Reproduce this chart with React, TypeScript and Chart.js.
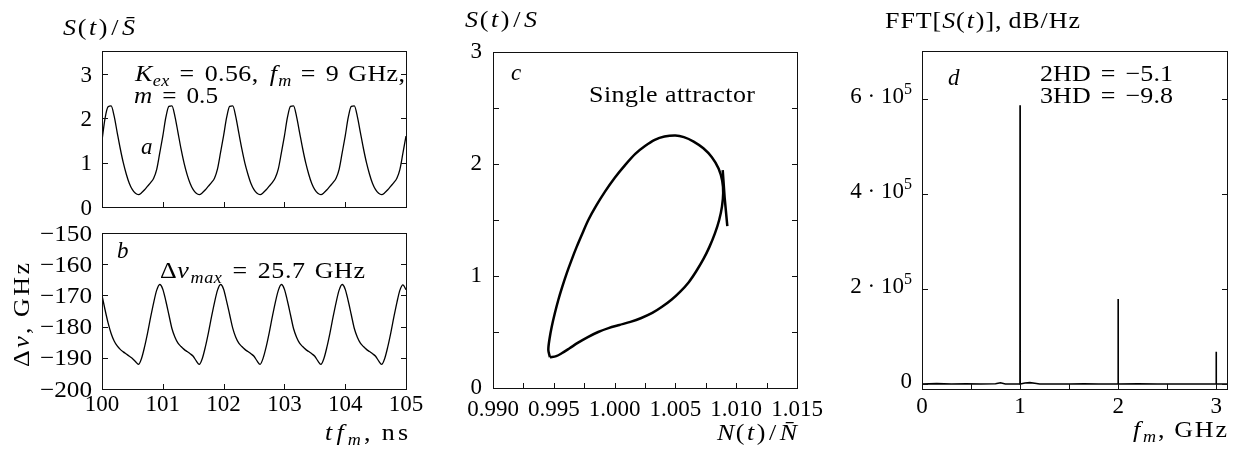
import React, { useEffect, useRef } from 'react';
import { Chart, registerables } from 'chart.js';

Chart.register(...registerables);

const W = 1236;
const H = 450;
const FONT = "'Liberation Serif', 'DejaVu Serif', serif";

// ---------- data: panels a and b (time axis, tf_m in ns) ----------
const timeNs = [
  100, 100.05, 100.1, 100.15, 100.2, 100.25, 100.3, 100.35, 100.4, 100.45, 100.5, 100.55, 100.6, 100.65, 100.7, 100.75, 100.8, 100.85, 100.9, 100.95,
  101, 101.05, 101.1, 101.15, 101.2, 101.25, 101.3, 101.35, 101.4, 101.45, 101.5, 101.55, 101.6, 101.65, 101.7, 101.75, 101.8, 101.85, 101.9, 101.95,
  102, 102.05, 102.1, 102.15, 102.2, 102.25, 102.3, 102.35, 102.4, 102.45, 102.5, 102.55, 102.6, 102.65, 102.7, 102.75, 102.8, 102.85, 102.9, 102.95,
  103, 103.05, 103.1, 103.15, 103.2, 103.25, 103.3, 103.35, 103.4, 103.45, 103.5, 103.55, 103.6, 103.65, 103.7, 103.75, 103.8, 103.85, 103.9, 103.95,
  104, 104.05, 104.1, 104.15, 104.2, 104.25, 104.3, 104.35, 104.4, 104.45, 104.5, 104.55, 104.6, 104.65, 104.7, 104.75, 104.8, 104.85, 104.9, 104.95,
  105,
];

const powerRatio = [
  1.5, 2.0, 2.26, 2.28, 2.05, 1.68, 1.32, 1.0, 0.74, 0.53, 0.39, 0.31, 0.28, 0.32, 0.39, 0.47, 0.55, 0.65, 0.85, 1.22,
  1.6, 2.02, 2.27, 2.28, 2.04, 1.68, 1.31, 0.99, 0.73, 0.53, 0.39, 0.31, 0.28, 0.32, 0.39, 0.47, 0.55, 0.65, 0.86, 1.23,
  1.61, 2.02, 2.27, 2.28, 2.04, 1.67, 1.31, 0.99, 0.74, 0.53, 0.39, 0.31, 0.28, 0.32, 0.39, 0.47, 0.55, 0.66, 0.86, 1.22,
  1.6, 2.02, 2.27, 2.28, 2.04, 1.68, 1.32, 1.0, 0.74, 0.53, 0.39, 0.31, 0.28, 0.32, 0.39, 0.47, 0.55, 0.65, 0.85, 1.22,
  1.6, 2.02, 2.27, 2.28, 2.04, 1.68, 1.32, 1.0, 0.74, 0.53, 0.39, 0.31, 0.28, 0.32, 0.39, 0.47, 0.55, 0.65, 0.85, 1.22,
  1.6,
];

const chirpGHz = [
  -170.0, -174.6, -178.8, -182.2, -184.6, -186.2, -187.3, -188.1, -188.8, -189.5, -190.2, -191.2, -192.1, -190.2, -186.5, -182.0, -177.0, -172.3, -168.3, -166.5,
  -168.0, -171.8, -176.2, -180.6, -183.4, -185.3, -186.4, -187.3, -188.0, -188.7, -189.5, -191.0, -192.1, -190.2, -186.5, -182.0, -177.0, -172.3, -168.3, -166.5,
  -168.0, -171.9, -176.2, -180.5, -183.4, -185.3, -186.4, -187.3, -188.0, -188.7, -189.5, -191.0, -192.1, -190.1, -186.5, -182.0, -177.0, -172.3, -168.4, -166.5,
  -168.0, -171.8, -176.2, -180.6, -183.4, -185.3, -186.4, -187.3, -188.0, -188.7, -189.5, -191.0, -192.1, -190.2, -186.5, -182.0, -177.0, -172.3, -168.3, -166.5,
  -168.0, -171.8, -176.2, -180.6, -183.4, -185.3, -186.4, -187.3, -188.0, -188.7, -189.5, -191.0, -192.1, -190.2, -186.5, -182.0, -177.0, -172.3, -168.3, -166.6,
  -168.2,
];

// ---------- data: panel c (phase portrait, N(t)/N̄ vs S(t)/S) ----------
const loopN = [
  0.99468, 0.9952, 0.99565, 0.9963, 0.997, 0.9978, 0.99865, 0.9995, 1.0004, 1.0013, 1.0022, 1.0031, 1.0039, 1.0047,
  1.0054, 1.0061, 1.0067, 1.0073, 1.0078, 1.00825, 1.0086, 1.00883, 1.00893, 1.00885, 1.00855, 1.008, 1.0073, 1.0065,
  1.0057, 1.005, 1.0041, 1.0033, 1.0025, 1.0017, 1.00086, 1.0, 0.99921, 0.9985, 0.99784, 0.99735, 0.99688, 0.99645,
  0.99606, 0.9957, 0.99537, 0.99508, 0.99483, 0.99465, 0.99455, 0.99468,
];
const loopS = [
  0.275, 0.285, 0.31, 0.355, 0.405, 0.455, 0.5, 0.535, 0.563, 0.59, 0.625, 0.67, 0.725, 0.79,
  0.86, 0.945, 1.04, 1.15, 1.26, 1.38, 1.5, 1.62, 1.74, 1.85, 1.96, 2.06, 2.14, 2.2,
  2.24, 2.255, 2.245, 2.215, 2.16, 2.09, 1.99, 1.875, 1.753, 1.63, 1.5, 1.38, 1.26, 1.14,
  1.024, 0.905, 0.786, 0.665, 0.547, 0.44, 0.34, 0.275,
];
const transientN = [1.00889, 1.00905, 1.00927];
const transientS = [1.945, 1.7, 1.445];

// ---------- data: panel d (spectrum) ----------
const fftFreq = [0, 0.15, 0.3, 0.45, 0.6, 0.75, 0.8, 0.85, 0.999, 1.0, 1.001, 1.05, 1.1, 1.15, 1.2, 1.5, 1.65, 1.8, 1.999, 2.0, 2.001, 2.2, 2.4, 2.999, 3.0, 3.001, 3.11];
const fftPower = [0, 800, 0, 600, 0, 500, 2500, 0, 0, 587000, 0, 2000, 3000, 1500, 0, 0, 700, 0, 0, 179000, 0, 500, 0, 0, 68000, 0, 0];

// ---------- ticks ----------
const aYMarks = [1, 2, 3];
const aYLabels = [0, 1, 2, 3];
const abXMarks = [101, 102, 103, 104];
const bXLabels = [100, 101, 102, 103, 104, 105];
const bYMarks = [-190, -180, -170, -160];
const bYLabels = [-200, -190, -180, -170, -160, -150];
const cXMarks = [0.9925, 0.995, 0.9975, 1.0, 1.0025, 1.005, 1.0075, 1.01, 1.0125];
const cXLabels = [0.99, 0.995, 1.0, 1.005, 1.01, 1.015];
const cYMarks = [0.5, 1, 1.5, 2, 2.5];
const cYLabels = [0, 1, 2, 3];
const dXMarks = [0.5, 1, 1.5, 2, 2.5, 3];
const dXLabels = [0, 1, 2, 3];
const dYMarks = [0, 200000, 400000, 600000];
const dYValues = [0, 200000, 400000, 600000];
const dYTexts = ['0', '2 · 10^5', '4 · 10^5', '6 · 10^5'];

type Seg = [string, string, number?];

function segFont(style: string, size: number) {
  const it = style === 'i' || style === 'si';
  const sz = style.length > 1 ? Math.round(size * 0.68) : size;
  return `${it ? 'italic ' : ''}${sz}px ${FONT}`;
}
function segDy(style: string, size: number) {
  if (style === 'si' || style === 'sr') return size * 0.22;
  if (style === 'up') return -size * 0.4;
  return 0;
}

// mixed roman / italic / sub / superscript text; a target width widens the glyphs a little and spreads the rest
function drawRich(ctx: CanvasRenderingContext2D, segs: Seg[], x: number, y: number, size: number, align = 'left', target = 0) {
  ctx.textAlign = 'left';
  ctx.textBaseline = 'alphabetic';
  const items: { ch: string; font: string; dy: number; w: number; gap: number }[] = [];
  segs.forEach((s) => {
    const font = segFont(s[1], size);
    ctx.font = font;
    const chars: string[] = [];
    Array.from(s[0]).forEach((c) => {
      if (/[\u0300-\u036f]/.test(c) && chars.length) chars[chars.length - 1] += c;
      else chars.push(c);
    });
    chars.forEach((c, k) => {
      items.push({ ch: c, font, dy: segDy(s[1], size), w: ctx.measureText(c).width, gap: k === chars.length - 1 ? s[2] || 0 : 0 });
    });
  });
  const glyphs = items.reduce((a, b) => a + b.w, 0);
  const gaps = items.reduce((a, b) => a + b.gap, 0);
  let sx = 1;
  let extra = 0;
  if (target > glyphs + gaps) {
    sx = Math.min((target - gaps) / glyphs, 1.13);
    const rest = target - gaps - glyphs * sx;
    extra = items.length > 1 && rest > 0 ? rest / (items.length - 1) : 0;
  }
  const total = glyphs * sx + gaps + extra * (items.length - 1);
  let cx = align === 'right' ? x - total : align === 'center' ? x - total / 2 : x;
  items.forEach((it) => {
    ctx.font = it.font;
    ctx.save();
    ctx.translate(cx, y + it.dy);
    ctx.scale(sx, 1);
    ctx.fillText(it.ch, 0, 0);
    ctx.restore();
    cx += it.w * sx + it.gap + extra;
  });
}

const FS = 23;
const fmtMinus = (v: number) => (v < 0 ? '\u2212' + Math.abs(v) : String(v));

interface Panel {
  area: { l: number; t: number; r: number; b: number };
  x: [number, number];
  y: [number, number];
  datasets: any[];
  draw: (ctx: CanvasRenderingContext2D, xs: any, ys: any) => void;
}

function frameAndTicks(ctx: CanvasRenderingContext2D, area: Panel['area'], xs: any, ys: any, xMarks: number[], yMarks: number[]) {
  ctx.save();
  ctx.strokeStyle = '#111';
  ctx.lineWidth = 1;
  ctx.strokeRect(area.l + 0.5, area.t + 0.5, area.r - area.l, area.b - area.t);
  ctx.beginPath();
  yMarks.forEach((v) => {
    const py = Math.round(ys.getPixelForValue(v)) + 0.5;
    ctx.moveTo(area.l, py);
    ctx.lineTo(area.l + 6, py);
    ctx.moveTo(area.r + 1, py);
    ctx.lineTo(area.r - 5, py);
  });
  xMarks.forEach((v) => {
    const px = Math.round(xs.getPixelForValue(v)) + 0.5;
    ctx.moveTo(px, area.b + 1);
    ctx.lineTo(px, area.b - 5);
  });
  ctx.stroke();
  ctx.restore();
}

function yLabels(ctx: CanvasRenderingContext2D, ys: any, vals: number[], texts: string[], rightX: number, off: number, target = 0) {
  vals.forEach((v, i) => {
    const py = ys.getPixelForValue(v);
    const parts = texts[i].split('^');
    const segs: Seg[] = [[parts[0], 'r']];
    if (parts[1]) segs.push([parts[1], 'up']);
    drawRich(ctx, segs, rightX, py + off, FS, 'right', texts[i].length > 2 ? target : 0);
  });
}
function xLabels(ctx: CanvasRenderingContext2D, xs: any, vals: number[], texts: string[], baseY: number) {
  vals.forEach((v, i) => {
    drawRich(ctx, [[texts[i], 'r']], xs.getPixelForValue(v), baseY, FS, 'center');
  });
}

const lineStyle = { borderColor: '#000', backgroundColor: '#000', showLine: true, pointRadius: 0, fill: false };

const PANELS: Panel[] = [
  {
    area: { l: 102, t: 51, r: 406, b: 207 },
    x: [100, 105],
    y: [0, 3.52],
    datasets: [
      { ...lineStyle, borderWidth: 1.3, cubicInterpolationMode: 'monotone', data: timeNs.map((t, i) => ({ x: t, y: powerRatio[i] })) },
    ],
    draw: (ctx, xs, ys) => {
      frameAndTicks(ctx, PANELS[0].area, xs, ys, abXMarks, aYMarks);
      yLabels(ctx, ys, aYLabels, aYLabels.map(String), 92, 7.5);
      drawRich(ctx, [['S', 'i'], ['(', 'r', 1], ['t', 'i', 1], [')', 'r', 2], ['/', 'r', 2], ['S\u0304', 'i']], 63, 35, FS, 'left', 72);
      drawRich(ctx, [['K', 'i'], ['ex', 'si', 10], ['=', 'r', 10], ['0.56,', 'r', 11], ['f', 'i', 1], ['m', 'si', 9], ['=', 'r', 10], ['9', 'r', 9], ['GHz,', 'r']], 135, 81, FS, 'left', 270);
      drawRich(ctx, [['m', 'i', 10], ['=', 'r', 10], ['0.5', 'r']], 134, 103, FS, 'left', 84);
      drawRich(ctx, [['a', 'i']], 141, 154, FS);
    },
  },
  {
    area: { l: 102, t: 233, r: 406, b: 389 },
    x: [100, 105],
    y: [-200, -150],
    datasets: [
      { ...lineStyle, borderWidth: 1.3, cubicInterpolationMode: 'monotone', data: timeNs.map((t, i) => ({ x: t, y: chirpGHz[i] })) },
    ],
    draw: (ctx, xs, ys) => {
      frameAndTicks(ctx, PANELS[1].area, xs, ys, abXMarks, bYMarks);
      yLabels(ctx, ys, bYLabels, bYLabels.map(fmtMinus), 92, 7.5, 52);
      xLabels(ctx, xs, bXLabels, bXLabels.map(String), 411);
      drawRich(ctx, [['b', 'i']], 117, 258, FS);
      drawRich(ctx, [['\u0394', 'r'], ['\u03bd', 'i', 1], ['max', 'si', 10], ['=', 'r', 10], ['25.7', 'r', 9], ['GHz', 'r']], 160, 278, FS, 'left', 205);
      drawRich(ctx, [['t', 'i', 1], ['f', 'i', 1], ['m', 'si'], [',', 'r', 8], ['ns', 'r']], 408, 440, FS, 'right', 83);
      ctx.save();
      ctx.translate(29, 315);
      ctx.rotate(-Math.PI / 2);
      drawRich(ctx, [['\u0394', 'r'], ['\u03bd', 'i'], [',', 'r', 8], ['GHz', 'r']], 0, 0, FS, 'center', 104);
      ctx.restore();
    },
  },
  {
    area: { l: 493, t: 52, r: 797, b: 388 },
    x: [0.99, 1.015],
    y: [0, 3],
    datasets: [
      { ...lineStyle, borderWidth: 2.5, tension: 0.3, data: loopN.map((n, i) => ({ x: n, y: loopS[i] })) },
      { ...lineStyle, borderWidth: 2.5, tension: 0, data: transientN.map((n, i) => ({ x: n, y: transientS[i] })) },
    ],
    draw: (ctx, xs, ys) => {
      frameAndTicks(ctx, PANELS[2].area, xs, ys, cXMarks, cYMarks);
      yLabels(ctx, ys, cYLabels, cYLabels.map(String), 482, 6);
      xLabels(ctx, xs, cXLabels, cXLabels.map((v) => v.toFixed(3)), 416);
      drawRich(ctx, [['S', 'i'], ['(', 'r', 1], ['t', 'i', 1], [')', 'r', 2], ['/', 'r', 2], ['S', 'i']], 465, 27, FS, 'left', 72);
      drawRich(ctx, [['c', 'i']], 511, 80, FS);
      drawRich(ctx, [['Single attractor', 'r']], 589, 102, FS, 'left', 166);
      drawRich(ctx, [['N', 'i'], ['(', 'r', 1], ['t', 'i', 1], [')', 'r', 2], ['/', 'r', 2], ['N\u0304', 'i']], 797, 440, FS, 'right', 80);
    },
  },
  {
    area: { l: 922, t: 51, r: 1227, b: 389 },
    x: [0, 3.11],
    y: [-10500, 701000],
    datasets: [
      { ...lineStyle, borderWidth: 1.6, tension: 0, data: fftFreq.map((f, i) => ({ x: f, y: fftPower[i] })) },
    ],
    draw: (ctx, xs, ys) => {
      frameAndTicks(ctx, PANELS[3].area, xs, ys, dXMarks, dYMarks);
      yLabels(ctx, ys, dYValues, dYTexts, 912, 4);
      xLabels(ctx, xs, dXLabels, dXLabels.map(String), 413);
      drawRich(ctx, [['FFT[', 'r'], ['S', 'i'], ['(', 'r', 1], ['t', 'i', 1], [')],', 'r', 6], ['dB/Hz', 'r']], 885, 28, FS, 'left', 195);
      drawRich(ctx, [['d', 'i']], 948, 85, FS);
      drawRich(ctx, [['2HD', 'r', 10], ['=', 'r', 10], ['\u22125.1', 'r']], 1040, 81, FS, 'left', 133);
      drawRich(ctx, [['3HD', 'r', 10], ['=', 'r', 10], ['\u22129.8', 'r']], 1040, 103, FS, 'left', 133);
      drawRich(ctx, [['f', 'i', 1], ['m', 'si'], [',', 'r', 8], ['GHz', 'r']], 1227, 437, FS, 'right', 94);
    },
  },
];

function makeConfig(p: Panel): any {
  const a = p.area;
  return {
    type: 'scatter',
    data: { datasets: p.datasets },
    options: {
      responsive: false,
      animation: false,
      devicePixelRatio: 1,
      events: [],
      layout: { padding: { left: a.l, top: a.t, right: W - a.r, bottom: H - a.b } },
      plugins: { legend: { display: false }, tooltip: { enabled: false } },
      scales: {
        x: { type: 'linear', min: p.x[0], max: p.x[1], display: false },
        y: { type: 'linear', min: p.y[0], max: p.y[1], display: false },
      },
    },
    plugins: [
      {
        id: 'panelDecor',
        afterDraw(chart: any) {
          const ctx = chart.ctx as CanvasRenderingContext2D;
          ctx.save();
          ctx.fillStyle = '#000';
          p.draw(ctx, chart.scales.x, chart.scales.y);
          ctx.restore();
        },
      },
    ],
  };
}

export default function App() {
  const canvases = useRef<(HTMLCanvasElement | null)[]>([]);
  useEffect(() => {
    const charts = PANELS.map((p, i) => new Chart(canvases.current[i] as HTMLCanvasElement, makeConfig(p)));
    let alive = true;
    if ((document as any).fonts && (document as any).fonts.ready) {
      (document as any).fonts.ready.then(() => {
        if (alive) charts.forEach((c) => c.draw());
      });
    }
    return () => {
      alive = false;
      charts.forEach((c) => c.destroy());
    };
  }, []);
  return (
    <div style={{ position: 'fixed', left: 0, top: 0, width: W, height: H, background: '#fff' }}>
      {PANELS.map((_, i) => (
        <canvas
          key={i}
          ref={(el) => {
            canvases.current[i] = el;
          }}
          width={W}
          height={H}
          style={{ position: 'absolute', left: 0, top: 0, width: W, height: H }}
        />
      ))}
    </div>
  );
}
